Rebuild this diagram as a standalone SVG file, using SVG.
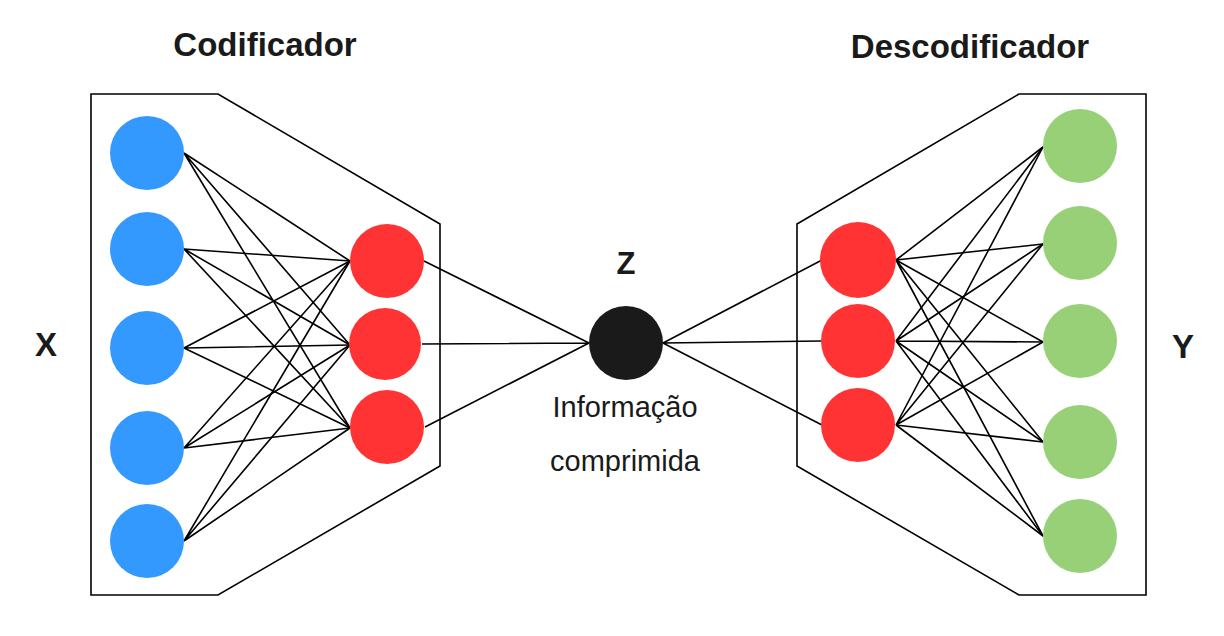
<svg xmlns="http://www.w3.org/2000/svg" width="1224" height="636" viewBox="0 0 1224 636">
<style>
.frame{fill:none;stroke:#000;stroke-width:1.6;stroke-linejoin:miter}
.edge{stroke:#000;stroke-width:1.6;fill:none}
.blue{fill:#3399FF}
.red{fill:#FF3333}
.green{fill:#97D077}
.z{fill:#1A1A1A}
.title{font-family:"Liberation Sans",Arial,sans-serif;font-weight:bold;font-size:33px;fill:#1A1A1A;text-anchor:middle}
.lbl{font-family:"Liberation Sans",Arial,sans-serif;font-size:29px;fill:#1A1A1A;text-anchor:middle}
</style>
<rect width="1224" height="636" fill="#fff"/>
<g id="encoder-frame"><polygon class="frame" points="91,94 218,94 440,224 440,466 218,595 91,595"/></g>
<g id="decoder-frame"><polygon class="frame" points="797,224 1019,94 1146,94 1146,595 1019,595 797,466"/></g>
<g id="connectors">
<path class="edge" d="M184,153L350,261M184,153L350,345M184,153L350,428"/>
<path class="edge" d="M184,249L350,261M184,249L350,345M184,249L350,428"/>
<path class="edge" d="M184,348L350,261M184,348L350,345M184,348L350,428"/>
<path class="edge" d="M184,448L350,261M184,448L350,345M184,448L350,428"/>
<path class="edge" d="M184,541L350,261M184,541L350,345M184,541L350,428"/>
<path class="edge" d="M424,261L589,343M422,344L589,343M425,427L589,343"/>
<path class="edge" d="M663,343L822,260M663,343L821,341M663,343L822,425"/>
<path class="edge" d="M896,260L1043,147M896,260L1043,244M896,260L1043,342M896,260L1043,442M896,260L1043,536"/>
<path class="edge" d="M896,341L1043,147M896,341L1043,244M896,341L1043,342M896,341L1043,442M896,341L1043,536"/>
<path class="edge" d="M896,425L1043,147M896,425L1043,244M896,425L1043,342M896,425L1043,442M896,425L1043,536"/>
</g>
<g id="x1"><circle class="blue" cx="147" cy="153" r="37"/></g>
<g id="x2"><circle class="blue" cx="147" cy="249" r="37"/></g>
<g id="x3"><circle class="blue" cx="147" cy="348" r="37"/></g>
<g id="x4"><circle class="blue" cx="147" cy="448" r="37"/></g>
<g id="x5"><circle class="blue" cx="147" cy="541" r="37"/></g>
<g id="e1"><circle class="red" cx="387" cy="261" r="37"/></g>
<g id="e2"><circle class="red" cx="385" cy="344" r="36"/></g>
<g id="e3"><circle class="red" cx="387" cy="427" r="37"/></g>
<g id="z"><circle class="z" cx="626" cy="343" r="37"/></g>
<g id="d1"><circle class="red" cx="858" cy="260" r="38"/></g>
<g id="d2"><circle class="red" cx="858" cy="341" r="37"/></g>
<g id="d3"><circle class="red" cx="858" cy="425" r="37"/></g>
<g id="y1"><circle class="green" cx="1080" cy="146" r="37"/></g>
<g id="y2"><circle class="green" cx="1080" cy="243" r="37"/></g>
<g id="y3"><circle class="green" cx="1080" cy="341" r="37"/></g>
<g id="y4"><circle class="green" cx="1080" cy="442" r="37"/></g>
<g id="y5"><circle class="green" cx="1080" cy="536" r="37"/></g>
<g id="labels">
<text class="title" x="265" y="56">Codificador</text>
<text class="title" x="970" y="58">Descodificador</text>
<text class="title" x="46" y="356">X</text>
<text class="title" x="1183" y="358">Y</text>
<text class="title" x="626" y="274" style="font-size:31px">Z</text>
<text class="lbl" x="625" y="417">Informação</text>
<text class="lbl" x="625" y="471">comprimida</text>
</g>
</svg>
